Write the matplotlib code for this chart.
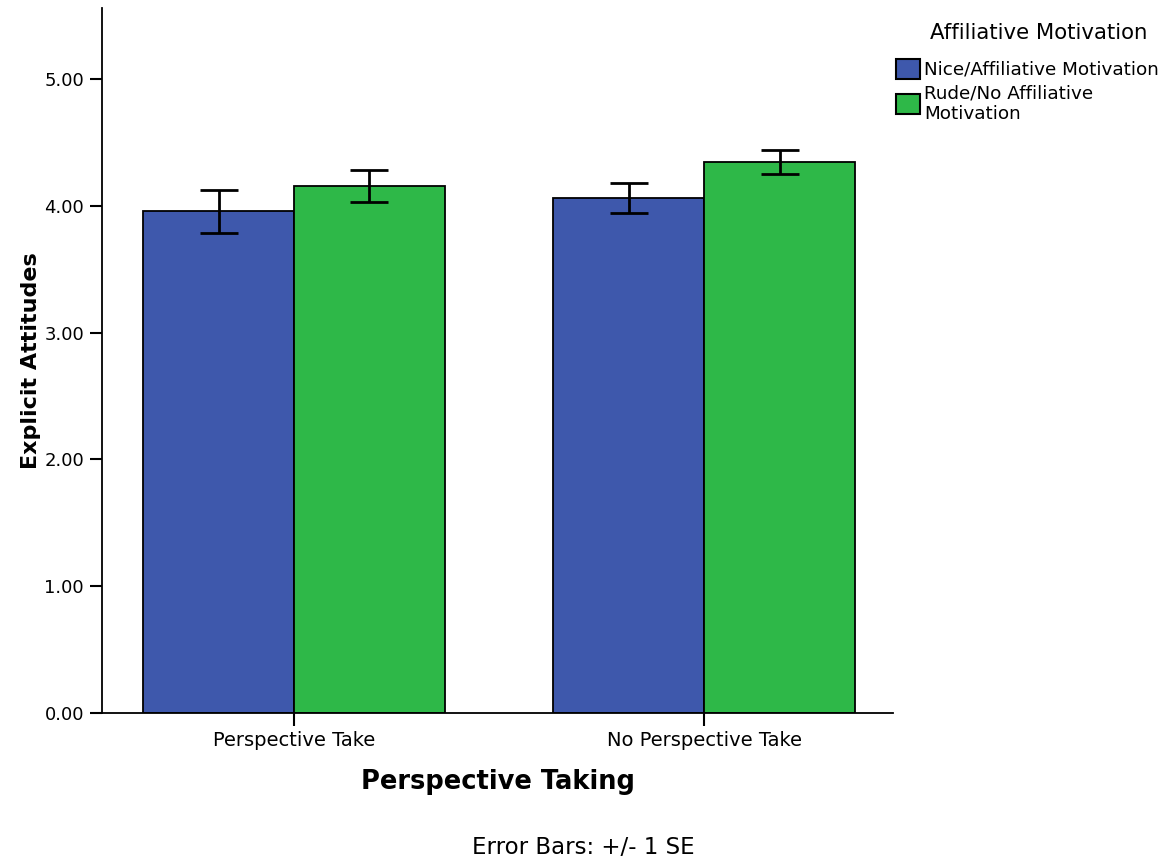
import matplotlib
matplotlib.use("Agg")
from matplotlib import pyplot as plt
from matplotlib.patches import Patch
import numpy as np

plt.rcParams['font.family'] = ['DejaVu Sans']

categories = ['Perspective Take', 'No Perspective Take']
groups = ['Nice/Affiliative Motivation', 'Rude/No Affiliative\nMotivation']
means_nice = [3.955, 4.061]
means_rude = [4.155, 4.345]
se_nice = [0.171, 0.121]
se_rude = [0.124, 0.097]
colors = ['#3E58AC', '#2EB848']

fig = plt.figure(figsize=(11.66, 8.66), dpi=100)
ax = fig.add_axes([0.0875, 0.1767, 0.6786, 0.8141])

x = np.arange(len(categories))
w = 0.368
ax.bar(x - w/2, means_nice, w, color=colors[0], edgecolor='black', linewidth=1.3)
ax.bar(x + w/2, means_rude, w, color=colors[1], edgecolor='black', linewidth=1.3)
ax.errorbar(x - w/2, means_nice, yerr=se_nice, fmt='none', ecolor='black', elinewidth=2, capsize=13.7, capthick=2)
ax.errorbar(x + w/2, means_rude, yerr=se_rude, fmt='none', ecolor='black', elinewidth=2, capsize=13.7, capthick=2)

ax.set_xlim(-0.468, 1.461)
ax.set_ylim(0, 5.56)
ax.set_yticks([0, 1, 2, 3, 4, 5])
ax.set_yticklabels(['%.2f' % v for v in [0, 1, 2, 3, 4, 5]], fontsize=13)
ax.set_xticks(x)
ax.set_xticklabels(categories, fontsize=14)
ax.tick_params(axis='both', direction='out', length=9, width=1.5, color='black', pad=4)
for s in ['top', 'right']:
    ax.spines[s].set_visible(False)
ax.spines['left'].set_linewidth(1.3)
ax.spines['bottom'].set_linewidth(1.3)

ax.set_ylabel('Explicit Attitudes', fontsize=16, fontweight='bold', labelpad=2)
ax.set_xlabel('Perspective Taking', fontsize=18.5, fontweight='bold', labelpad=14)

# legend title drawn separately to get the wider gap above the entries
fig.text(0.891, 0.962, 'Affiliative Motivation', ha='center', va='center', fontsize=15.3)
handles = [Patch(facecolor=c, edgecolor='black', linewidth=1.5) for c in colors]
leg = fig.legend(handles, groups, loc='upper left', bbox_to_anchor=(0.7605, 0.943),
                 frameon=False, fontsize=13.2, handlelength=1.3, handleheight=1.3,
                 handletextpad=0.25, labelspacing=0.3, borderpad=0)

fig.text(0.5, 0.008, 'Error Bars: +/- 1 SE', ha='center', va='bottom', fontsize=16.5)

fig.savefig('out.png', dpi=100)
